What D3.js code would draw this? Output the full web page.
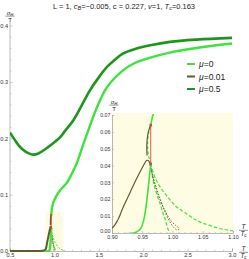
<!DOCTYPE html>
<html><head><meta charset="utf-8">
<script src="https://cdn.jsdelivr.net/npm/d3@7/dist/d3.min.js"></script>
<style>
body{margin:0;background:#fff}
svg{display:block}
text{font-family:"Liberation Sans",Arial,sans-serif}
</style>
</head><body>
<svg id="c" width="249" height="259"></svg>
<script>
// ---------- data ----------
const legendLabels = ["0", "0.01", "0.5"];
const xTicksMain = [0.5, 1.0, 1.5, 2.0, 2.5, 3.0];
const yTicksMain = [0.0, 0.1, 0.2, 0.3, 0.4];
const xTicksInset = [0.90, 0.95, 1.00, 1.05, 1.10];
const yTicksInset = [0.00, 0.01, 0.02, 0.03, 0.04, 0.05, 0.06, 0.07];

// mu = 0.5
const mu05T = [0.5, 0.55, 0.6, 0.65, 0.7, 0.76, 0.82, 0.9, 1.0, 1.06, 1.12, 1.21, 1.3, 1.4, 1.5, 1.59, 1.68, 1.77, 1.9, 2.08, 2.3, 2.6, 3.0];
const mu05V = [0.210, 0.198, 0.187, 0.179, 0.174, 0.171, 0.173, 0.181, 0.193, 0.201, 0.213, 0.231, 0.256, 0.285, 0.308, 0.326, 0.339, 0.350, 0.358, 0.365, 0.371, 0.375, 0.378];

// mu = 0 : lower stable branch, unstable middle, upper branch, two dashed branches
const mu0LowT = [0.5, 0.935, 0.942, 0.948, 0.952, 0.956, 0.959, 0.962, 0.964];
const mu0LowV = [0, 0, 0.001, 0.003, 0.007, 0.015, 0.024, 0.034, 0.041];
const mu0MidT = [0.964, 0.961, 0.959, 0.959, 0.961, 0.964];
const mu0MidV = [0.041, 0.045, 0.050, 0.055, 0.060, 0.064];
const mu0UpT = [0.964, 0.967, 0.972, 0.98, 0.99, 1.02, 1.06, 1.1, 1.14, 1.19, 1.25, 1.31, 1.37, 1.48, 1.59, 1.77, 1.9, 2.08, 2.3, 2.6, 3.0];
const mu0UpV = [0.064, 0.069, 0.075, 0.081, 0.087, 0.097, 0.107, 0.114, 0.121, 0.135, 0.155, 0.182, 0.209, 0.255, 0.290, 0.320, 0.333, 0.343, 0.352, 0.360, 0.368];
const mu0DashAT = [0.964, 0.968, 0.973, 0.979, 0.984, 0.988, 0.991, 0.994, 0.996];
const mu0DashAV = [0.041, 0.031, 0.024, 0.018, 0.012, 0.008, 0.004, 0.001, 0];
const mu0DashBT = [0.964, 0.971, 0.98, 0.993, 1.005, 1.021, 1.035, 1.049, 1.075, 1.1, 1.12];
const mu0DashBV = [0.041, 0.033, 0.027, 0.021, 0.016, 0.012, 0.0085, 0.006, 0.003, 0.0012, 0.0005];

// mu = 0.01
const mu001LowT = [0.5, 0.84, 0.86, 0.88, 0.9, 0.91, 0.918, 0.926, 0.935, 0.946, 0.952, 0.957, 0.960, 0.962];
const mu001LowV = [0, 0, 0.0003, 0.001, 0.003, 0.008, 0.015, 0.021, 0.028, 0.036, 0.040, 0.043, 0.043, 0.042];
const mu001UpT = [0.958, 0.9575, 0.958, 0.960, 0.964];
const mu001UpV = [0.046, 0.050, 0.055, 0.060, 0.064];
const mu001LoopT = [0.962, 0.968, 0.976, 0.986, 0.995, 1.003, 1.008, 1.011, 1.007, 0.998, 0.988, 0.978, 0.970, 0.965, 0.962];
const mu001LoopV = [0.042, 0.033, 0.024, 0.014, 0.007, 0.003, 0.0018, 0.0026, 0.004, 0.007, 0.013, 0.021, 0.030, 0.037, 0.042];

// first-order jump
const jumpT = [0.964, 0.964];
const jumpV = [0.041, 0.064];

// zoom window
const zoomT = [0.9, 1.1];
const zoomV = [0, 0.07];

// ---------- drawing ----------
const zip = (a, b) => a.map((t, i) => [t, b[i]]);
const C0 = "#3fe23f", C001 = "#5e5c30", C05 = "#1e961e", CR = "#d0483c";
const svg = d3.select("#c");

// title
const title = svg.append("text").attr("x", 124).attr("y", 8.5).attr("text-anchor", "middle")
  .attr("font-size", 7.5).attr("fill", "#222");
title.append("tspan").text("L = 1, ");
title.append("tspan").attr("font-style", "italic").text("c");
title.append("tspan").attr("font-style", "italic").attr("font-size", 5.5).attr("dy", 1.5).text("B");
title.append("tspan").attr("dy", -1.5).text("=\u22120.005, c = 0.227, ");
title.append("tspan").attr("font-style", "italic").text("v");
title.append("tspan").text("=1, ");
title.append("tspan").attr("font-style", "italic").text("T");
title.append("tspan").attr("font-style", "italic").attr("font-size", 5.5).attr("dy", 1.5).text("c");
title.append("tspan").attr("dy", -1.5).text("=0.163");

function tFrac(g, cx, yTop, withSubBelow) {
  g.append("text").attr("x", cx).attr("y", yTop).attr("text-anchor", "middle")
    .attr("font-size", 6.5).attr("fill", "#222").attr("font-style", "italic").text("T");
  g.append("line").attr("x1", cx - 4.5).attr("x2", cx + 4.5).attr("y1", yTop + 1.3).attr("y2", yTop + 1.3)
    .attr("stroke", "#222").attr("stroke-width", 0.5);
  const t2 = g.append("text").attr("x", cx).attr("y", yTop + 7).attr("text-anchor", "middle")
    .attr("font-size", 6.5).attr("fill", "#222");
  t2.append("tspan").attr("font-style", "italic").text("T");
  if (withSubBelow) t2.append("tspan").attr("font-size", 4.5).attr("font-style", "italic").attr("dy", 1).text("c");
}
function sigmaT(g, cx, yBase) {
  const t1 = g.append("text").attr("x", cx).attr("y", yBase).attr("text-anchor", "middle")
    .attr("font-size", 6).attr("fill", "#222");
  t1.append("tspan").attr("font-style", "italic").text("\u03c3");
  t1.append("tspan").attr("font-size", 4.2).attr("font-style", "italic").attr("dy", 1).text("H");
  g.append("line").attr("x1", cx - 4.5).attr("x2", cx + 4.5).attr("y1", yBase + 1.6).attr("y2", yBase + 1.6)
    .attr("stroke", "#222").attr("stroke-width", 0.5);
  g.append("text").attr("x", cx).attr("y", yBase + 7).attr("text-anchor", "middle")
    .attr("font-size", 6).attr("fill", "#222").text("T");
}

function styleAxis(g) {
  g.select(".domain").attr("stroke", "#a8a8a8").attr("stroke-width", 0.8);
  g.selectAll(".tick line").attr("stroke", "#a8a8a8").attr("stroke-width", 0.6);
  g.selectAll(".tick text").attr("fill", "#333").attr("font-size", 5.6)
    .attr("font-family", '"Liberation Sans",Arial,sans-serif');
}

// ---------- main plot ----------
const x = d3.scaleLinear().domain([0.5, 3.0]).range([10, 232]);
const y = d3.scaleLinear().domain([0, 0.4]).range([251, 25.5]);

svg.append("defs").append("clipPath").attr("id", "clipMain").append("rect")
  .attr("x", 10).attr("y", 0).attr("width", 222).attr("height", 252);
svg.select("defs").append("clipPath").attr("id", "clipInset").append("rect")
  .attr("x", 112).attr("y", 114).attr("width", 121).attr("height", 119);

const main = svg.append("g");
main.append("rect").attr("x", x(zoomT[0])).attr("y", y(zoomV[1]))
  .attr("width", x(zoomT[1]) - x(zoomT[0])).attr("height", y(zoomV[0]) - y(zoomV[1]))
  .attr("fill", "#fdfbe0");

const gx = main.append("g").attr("transform", `translate(0,${y(0)})`)
  .call(d3.axisBottom(x).tickValues(xTicksMain).tickSize(-2.5).tickPadding(2.2).tickFormat(d3.format(".1f")));
styleAxis(gx);
const gxm = main.append("g").attr("transform", `translate(0,${y(0)})`)
  .call(d3.axisBottom(x).tickValues(d3.range(0.6, 3.0, 0.1).filter(v => Math.abs(v * 2 - Math.round(v * 2)) > 0.01)).tickSize(-1.3).tickFormat(""));
styleAxis(gxm); gxm.select(".domain").remove();
const gy = main.append("g").attr("transform", `translate(${x(0.5)},0)`)
  .call(d3.axisLeft(y).tickValues(yTicksMain).tickSize(-2.5).tickPadding(2).tickFormat(d3.format(".1f")));
styleAxis(gy);
gy.select(".domain").attr("d", `M0,${y(0)}V22`);
const gym = main.append("g").attr("transform", `translate(${x(0.5)},0)`)
  .call(d3.axisLeft(y).tickValues(d3.range(0.02, 0.4, 0.02).filter(v => Math.abs(v * 10 - Math.round(v * 10)) > 0.01)).tickSize(-1.3).tickFormat(""));
styleAxis(gym); gym.select(".domain").remove();

sigmaT(svg, 10, 14.5);
tFrac(svg, 243.5, 251, true);

const lineMP = d3.line().x(d => x(d[0])).y(d => y(d[1])).curve(d3.curveCatmullRom.alpha(0.5));
const mc = main.append("g").attr("clip-path", "url(#clipMain)");
function drawMain(T, V, color, w, dash) {
  mc.append("path").attr("d", lineMP(zip(T, V))).attr("fill", "none")
    .attr("stroke", color).attr("stroke-width", w).attr("stroke-dasharray", dash || null)
    .attr("stroke-linejoin", "round");
}
drawMain(mu0DashBT, mu0DashBV, C0, 1, "2,1.5");
drawMain(mu0DashAT, mu0DashAV, C0, 1, "2,1.5");
drawMain(mu001LoopT, mu001LoopV, C001, 0.8, "1,1");
drawMain(mu0LowT, mu0LowV, C0, 2.4);
drawMain(mu0UpT, mu0UpV, C0, 2.4);
drawMain(mu001LowT, mu001LowV, C001, 2);
drawMain(mu001UpT, mu001UpV, C001, 1.6);
drawMain(mu05T, mu05V, C05, 2.6);
drawMain(jumpT, jumpV, CR, 0.8);
jumpT.forEach((t, i) => mc.append("rect").attr("x", x(t) - 1).attr("y", y(jumpV[i]) - 1)
  .attr("width", 2).attr("height", 2).attr("fill", CR));

// ---------- legend ----------
const legColors = [C0, C001, C05];
const legY = [64, 76.5, 89];
legendLabels.forEach((lab, i) => {
  svg.append("line").attr("x1", 187).attr("x2", 195).attr("y1", legY[i]).attr("y2", legY[i])
    .attr("stroke", legColors[i]).attr("stroke-width", 2);
  const t = svg.append("text").attr("x", 199).attr("y", legY[i] + 3).attr("font-size", 8.5).attr("fill", "#222");
  t.append("tspan").attr("font-style", "italic").text("\u03bc");
  t.append("tspan").text("=" + lab);
});

// ---------- inset ----------
const xi = d3.scaleLinear().domain([0.9, 1.1]).range([112, 233]);
const yi = d3.scaleLinear().domain([0, 0.07]).range([233, 115]);
const ins = svg.append("g");
ins.append("rect").attr("x", 112).attr("y", 113).attr("width", 121).attr("height", 120).attr("fill", "#fefde3");

const gxi = ins.append("g").attr("transform", `translate(0,${yi(0)})`)
  .call(d3.axisBottom(xi).tickValues(xTicksInset).tickSize(-2).tickPadding(2.3).tickFormat(d3.format(".2f")));
styleAxis(gxi);
gxi.selectAll(".tick text").attr("font-size", 5.3);
const gxim = ins.append("g").attr("transform", `translate(0,${yi(0)})`)
  .call(d3.axisBottom(xi).tickValues(d3.range(0.91, 1.1, 0.01).filter(v => Math.abs(v * 20 - Math.round(v * 20)) > 0.01)).tickSize(-1).tickFormat(""));
styleAxis(gxim); gxim.select(".domain").remove();
const gyi = ins.append("g").attr("transform", `translate(${xi(0.9)},0)`)
  .call(d3.axisLeft(yi).tickValues(yTicksInset).tickSize(-2).tickPadding(1.5).tickFormat(d3.format(".2f")));
styleAxis(gyi);
gyi.selectAll(".tick text").attr("font-size", 5.3);
gyi.selectAll(".tick text").filter(d => d === 0).attr("dy", "-0.05em");
const gyim = ins.append("g").attr("transform", `translate(${xi(0.9)},0)`)
  .call(d3.axisLeft(yi).tickValues(d3.range(0.002, 0.07, 0.002).filter(v => Math.abs(v * 100 - Math.round(v * 100)) > 0.01)).tickSize(-1).tickFormat(""));
styleAxis(gyim); gyim.select(".domain").remove();

sigmaT(svg, 114, 103.5);
tFrac(svg, 243.5, 229, true);

const lineI = d3.line().x(d => xi(d[0])).y(d => yi(d[1])).curve(d3.curveCatmullRom.alpha(0.5));
const ic = ins.append("g").attr("clip-path", "url(#clipInset)");
function drawIns(T, V, color, w, dash) {
  ic.append("path").attr("d", lineI(zip(T, V))).attr("fill", "none")
    .attr("stroke", color).attr("stroke-width", w).attr("stroke-dasharray", dash || null)
    .attr("stroke-linejoin", "round");
}
drawIns(mu0DashBT, mu0DashBV, C0, 1.2, "3.5,2");
drawIns(mu0DashAT, mu0DashAV, C0, 1.2, "3.5,2");
drawIns(mu0MidT, mu0MidV, C0, 1.2, "3,2");
drawIns(mu001LoopT, mu001LoopV, C001, 0.9, "1.5,1.5");
drawIns(mu0LowT, mu0LowV, C0, 1.6);
drawIns(mu0UpT, mu0UpV, C0, 1.6);
drawIns(mu001LowT, mu001LowV, C001, 1.2);
drawIns(mu001UpT, mu001UpV, C001, 1.2);
drawIns(jumpT, jumpV, CR, 0.9);
jumpT.forEach((t, i) => ic.append("rect").attr("x", xi(t) - 1.3).attr("y", yi(jumpV[i]) - 1.3)
  .attr("width", 2.6).attr("height", 2.6).attr("fill", CR));
</script>
</body></html>
